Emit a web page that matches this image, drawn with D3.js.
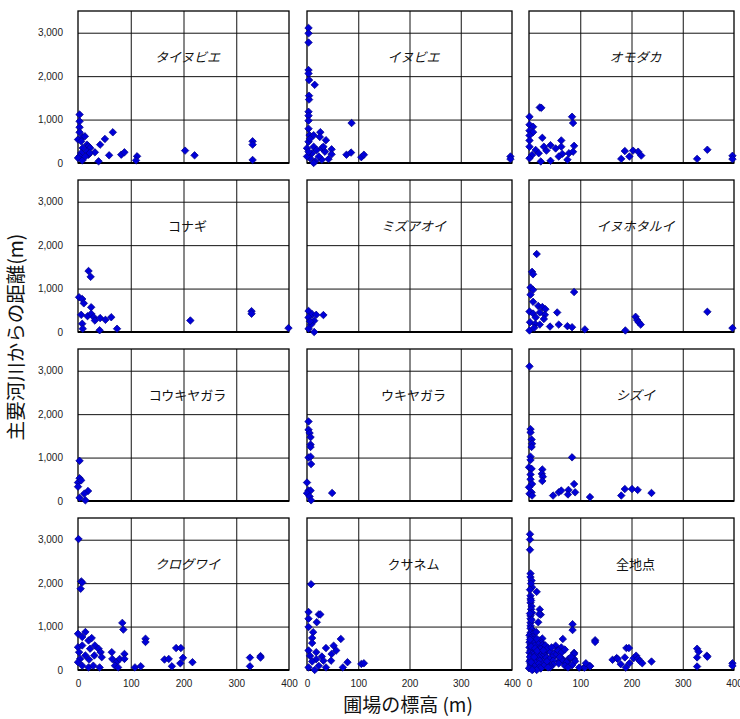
<!DOCTYPE html>
<html>
<head>
<meta charset="utf-8">
<script src="https://cdn.jsdelivr.net/npm/d3@7"></script>
<style>
  body { margin: 0; background: #fff; }
  svg text { font-family: "Liberation Sans", Arial, sans-serif; }
  .jp { font-family: "Noto Sans CJK JP", "Noto Sans", sans-serif; }
</style>
</head>
<body>
<div id="chart-area"></div>
<script>
// 圃場の標高 (m) vs 主要河川からの距離 (m), one panel per weed species

const taiNubie = [[3,1115],[3,960],[3,823],[3,707],[0,540],[9,600],[13,615],[6,500],[17,423],[20,385],[23,346],[17,270],[9,346],[6,230],[3,154],[0,115],[8,60],[20,192],[32,246],[39,38],[42,423],[51,554],[66,707],[59,177],[82,192],[88,246],[112,154],[110,60],[203,285],[221,177],[331,500],[331,423],[331,70],[22,230],[14,150]]

const inuBie = [[3,3110],[3,2985],[3,2775],[3,2140],[3,2060],[4,1910],[15,1800],[4,1550],[4,1460],[3,1180],[3,1090],[3,975],[3,790],[5,640],[3,490],[13,640],[26,710],[25,600],[37,525],[87,920],[13,375],[19,300],[29,340],[48,315],[48,200],[10,225],[6,110],[16,40],[29,75],[42,90],[77,190],[86,240],[106,135],[111,190],[397,150],[397,90],[0,340],[0,150],[23,150],[35,260],[6,560],[32,375],[13,0],[3,260]]

const omodaka = [[21,1280],[24,1270],[1,1065],[84,1065],[86,920],[1,880],[8,835],[1,745],[8,710],[1,635],[26,580],[1,520],[63,520],[1,375],[63,375],[88,395],[42,410],[29,375],[52,335],[13,300],[34,285],[65,210],[78,225],[86,260],[19,225],[6,185],[1,110],[23,35],[42,50],[75,75],[58,150],[180,95],[187,275],[196,150],[203,285],[213,260],[219,170],[328,95],[348,305],[397,165],[397,90]]

const konagi = [[20,1405],[24,1270],[2,800],[8,760],[11,660],[25,570],[6,395],[18,365],[25,420],[30,340],[32,265],[42,320],[52,280],[63,340],[8,190],[9,75],[41,40],[74,75],[213,265],[329,480],[329,420],[399,90]]

const mizuAoi = [[3,485],[10,410],[18,395],[32,390],[3,335],[14,260],[8,170],[3,75],[14,0],[6,245]]

const inuHotarui = [[15,1795],[6,1385],[8,1330],[3,1025],[8,970],[3,860],[88,920],[8,695],[18,600],[26,575],[32,525],[1,470],[55,450],[8,425],[21,450],[31,395],[29,300],[13,335],[2,225],[12,185],[21,170],[41,125],[58,170],[75,135],[84,110],[109,60],[1,35],[10,95],[188,35],[208,350],[211,275],[214,225],[218,170],[348,465],[397,90]]

const kouKiyagara = [[3,925],[3,525],[0,425],[0,330],[19,230],[12,170],[3,75],[14,15],[6,475]]

const ukiyagara = [[3,1830],[3,1640],[5,1565],[7,1470],[7,1300],[7,1245],[3,1000],[7,1020],[8,850],[0,425],[3,240],[7,240],[0,180],[5,105],[8,15],[49,185]]

const shizui = [[1,3100],[3,1655],[3,1580],[5,1415],[6,1320],[5,1245],[3,1020],[3,945],[84,1005],[0,775],[5,740],[26,725],[25,625],[27,560],[26,460],[3,610],[3,500],[6,390],[0,315],[5,200],[1,165],[6,125],[47,125],[58,200],[63,240],[77,255],[76,150],[88,390],[90,200],[119,90],[180,125],[187,275],[201,275],[212,255],[239,185]]

const kuroguwai = [[1,3015],[6,2040],[8,2015],[5,1870],[84,1085],[86,930],[128,720],[128,645],[0,835],[14,875],[8,760],[0,525],[2,410],[8,565],[4,255],[8,100],[0,180],[20,680],[26,735],[32,565],[23,490],[14,335],[21,240],[20,60],[31,335],[39,490],[43,410],[45,295],[41,60],[29,100],[64,410],[65,255],[73,180],[70,100],[76,60],[79,255],[88,370],[88,255],[108,60],[119,85],[164,240],[172,255],[186,505],[195,505],[199,280],[194,155],[178,85],[217,180],[326,285],[326,85],[346,320],[346,285]]

const kusanemu = [[8,1975],[3,1335],[3,1180],[23,1280],[26,1280],[19,1100],[3,990],[12,870],[10,735],[66,715],[10,620],[3,450],[18,410],[37,505],[52,560],[57,450],[48,370],[29,310],[18,250],[10,195],[32,215],[47,215],[3,60],[15,0],[23,95],[37,60],[70,60],[79,180],[106,140],[111,155],[6,325]]

const zenChiten = [[2,3125],[2,3005],[2,2770],[3,2220],[3,2140],[5,2060],[6,1905],[4,1990],[15,1800],[3,1710],[3,1640],[3,1550],[5,1470],[4,1400],[21,1395],[23,1275],[20,1290],[6,1320],[3,1250],[18,1100],[3,1180],[3,1090],[3,1020],[3,960],[6,930],[85,1055],[85,920],[10,880],[3,860],[8,835],[1,800],[14,875],[8,760],[3,740],[26,725],[8,700],[20,680],[25,625],[1,640],[10,620],[66,715],[129,685],[129,645],[18,600],[3,580],[26,575],[32,565],[11,560],[52,560],[1,520],[63,520],[37,505],[23,490],[6,480],[3,450],[55,450],[57,450],[31,395],[13,410],[18,410],[1,400],[42,410],[88,395],[64,410],[29,375],[6,375],[48,370],[88,370],[8,350],[52,335],[23,346],[13,335],[31,335],[3,320],[26,310],[45,295],[88,255],[65,255],[79,255],[20,300],[34,285],[17,270],[6,260],[3,240],[14,240],[40,250],[63,240],[77,255],[58,200],[9,230],[21,215],[47,215],[1,200],[65,210],[75,180],[6,185],[90,200],[12,170],[29,170],[58,150],[73,180],[3,150],[19,140],[37,130],[47,125],[84,110],[3,110],[8,100],[29,100],[70,100],[10,90],[42,90],[119,90],[108,60],[98,55],[3,60],[20,60],[41,60],[76,60],[0,40],[23,35],[37,60],[8,15],[15,0],[6,0],[109,60],[111,155],[119,85],[163,235],[171,275],[173,255],[187,290],[190,505],[195,505],[179,135],[189,55],[196,155],[204,270],[209,330],[213,260],[216,210],[221,155],[239,195],[328,490],[328,290],[328,80],[331,423],[347,330],[348,305],[397,155],[397,95],[2,1850],[4,1600],[2,1300],[5,1150],[2,700],[4,540],[2,300],[4,180],[12,500],[15,720],[16,440],[10,300],[28,450],[35,200],[44,520],[60,300],[70,470],[82,300]]

const panelNames = ["タイヌビエ", "イヌビエ", "オモダカ", "コナギ", "ミズアオイ", "イヌホタルイ",
  "コウキヤガラ", "ウキヤガラ", "シズイ", "クログワイ", "クサネム", "全地点"]
const panelData = [taiNubie, inuBie, omodaka, konagi, mizuAoi, inuHotarui,
  kouKiyagara, ukiyagara, shizui, kuroguwai, kusanemu, zenChiten]
const italicTitles = ["タイヌビエ", "イヌビエ", "オモダカ", "ミズアオイ", "イヌホタルイ", "シズイ", "クログワイ"]

const xTicks = [0, 100, 200, 300, 400]
const yTicks = [0, 1000, 2000, 3000]
const gridX = [100, 200, 300]
const gridY = [1000, 2000, 3000]

const xLabel = "圃場の標高 (m)"
const yLabel = "主要河川からの距離(m)"

// layout
const COL_LEFT = [78, 307, 529]
const COL_WIDTH = [211, 205, 205]
const ROW_TOP = [11, 180, 349, 518]
const PANEL_H = 152

const svg = d3.select("#chart-area").append("svg")
  .attr("width", 740)
  .attr("height", 719)

const diamond = d3.symbol().type(d3.symbolSquare).size(28)

panelData.forEach((data, i) => {
  const col = i % 3
  const row = Math.floor(i / 3)
  const w = COL_WIDTH[col]
  const h = PANEL_H

  const x = d3.scaleLinear().domain([0, 400]).range([0, w])
  const y = d3.scaleLinear().domain([0, 3500]).range([h, 0])

  const g = svg.append("g")
    .attr("transform", `translate(${COL_LEFT[col]}, ${ROW_TOP[row]})`)

  // grid
  g.append("g")
    .call(d3.axisLeft(y).tickValues(gridY).tickSize(-w).tickFormat(""))
    .call(a => a.select(".domain").remove())
    .selectAll("line").attr("stroke", "#111").attr("stroke-width", 1)
  g.append("g")
    .attr("transform", `translate(0,${h})`)
    .call(d3.axisBottom(x).tickValues(gridX).tickSize(-h).tickFormat(""))
    .call(a => a.select(".domain").remove())
    .selectAll("line").attr("stroke", "#111").attr("stroke-width", 1)

  g.append("rect")
    .attr("width", w)
    .attr("height", h)
    .attr("fill", "none")
    .attr("stroke", "#000")
    .attr("stroke-width", 1.3)
  g.append("line")
    .attr("x1", 0).attr("x2", w)
    .attr("y1", h).attr("y2", h)
    .attr("stroke", "#000")
    .attr("stroke-width", 2)

  // tick labels, left column and bottom row only
  if (col === 0) {
    g.append("g")
      .call(d3.axisLeft(y).tickValues(yTicks).tickSize(0).tickPadding(15).tickFormat(d3.format(",")))
      .call(a => a.select(".domain").remove())
      .selectAll("text")
        .attr("font-size", "10px")
        .attr("fill", "#222")
        .style("font-family", "'Liberation Sans', Arial, sans-serif")
  }
  if (row === 3) {
    g.append("g")
      .attr("transform", `translate(0,${h})`)
      .call(d3.axisBottom(x).tickValues(xTicks).tickSize(0).tickPadding(10))
      .call(a => a.select(".domain").remove())
      .selectAll("text")
        .attr("font-size", "10px")
        .attr("fill", "#222")
        .style("font-family", "'Liberation Sans', Arial, sans-serif")
  }

  // title
  g.append("text")
    .attr("class", "jp")
    .attr("x", w / 2 + 4)
    .attr("y", 47)
    .attr("text-anchor", "middle")
    .attr("dominant-baseline", "middle")
    .attr("font-size", "13px")
    .attr("fill", "#111")
    .style("font-style", italicTitles.includes(panelNames[i]) ? "italic" : "normal")
    .text(panelNames[i])

  // points
  g.selectAll("path.pt")
    .data(data)
    .enter().append("path")
      .attr("class", "pt")
      .attr("d", diamond)
      .attr("transform", d => `translate(${x(d[0])},${y(d[1])}) rotate(45)`)
      .attr("fill", "#0000d8")
      .attr("stroke", "#00008a")
      .attr("stroke-width", 0.7)
})

// axis titles
svg.append("text")
  .attr("class", "jp")
  .attr("x", 408)
  .attr("y", 707)
  .attr("text-anchor", "middle")
  .attr("dominant-baseline", "middle")
  .attr("font-size", "19px")
  .attr("fill", "#111")
  .text(xLabel)

svg.append("text")
  .attr("class", "jp")
  .attr("transform", "translate(18, 337) rotate(-90)")
  .attr("text-anchor", "middle")
  .attr("dominant-baseline", "middle")
  .attr("font-size", "19.5px")
  .attr("fill", "#111")
  .text(yLabel)
</script>
</body>
</html>
